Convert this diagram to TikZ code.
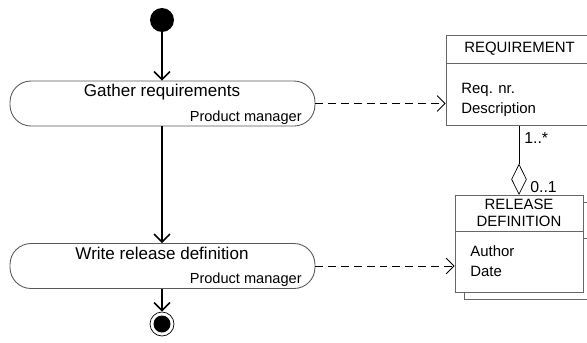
\documentclass[tikz,border=0pt]{standalone}
\usepackage{fontspec}
\setmainfont{Liberation Sans}
\usetikzlibrary{positioning, arrows.meta, shapes.geometric}

\begin{document}
\begin{tikzpicture}[x=0.02cm, y=-0.02cm, >={Straight Barb[length=4.5pt,width=9pt]},
  activity/.style={draw=black!65, line width=0.5pt, rounded corners=0.42cm,
    minimum width=6.1cm, minimum height=0.9cm, inner sep=0pt},
  acttitle/.style={font=\fontsize{9.7}{11}\selectfont, inner sep=0pt},
  actrole/.style={font=\fontsize{8.3}{10}\selectfont, inner sep=0pt, anchor=east},
  classbox/.style={draw=black!60, fill=white, minimum width=#1, inner sep=0pt,
    font=\fontsize{8.5}{9.6}\selectfont},
  classtext/.style={font=\fontsize{8.5}{11.3}\selectfont, align=left, inner sep=0pt},
  mult/.style={font=\fontsize{9}{10}\selectfont, inner sep=0pt},
  flow/.style={->, line width=0.9pt},
  trace/.style={->, line width=0.5pt, dash pattern=on 4.5pt off 2.8pt}]
  \useasboundingbox (0,0) rectangle (587,342);
  \clip (0,0) rectangle (587,342);

  % control flow
  \node[circle, fill=black, minimum size=0.48cm, inner sep=0pt] (start) at (162,20) {};
  \node[activity] (gather) at (162.5,103.5) {};
  \node[acttitle] (gathername) at (162,92) {Gather requirements};
  \node[actrole] (gatherrole) at (302,118) {Product manager};
  \node[activity] (write) at (162.5,266) {};
  \node[acttitle] (writename) at (162,253) {Write release definition};
  \node[actrole] (writerole) at (302,280) {Product manager};
  \node[circle, draw, thin, minimum size=0.48cm, inner sep=0pt] (stop) at (162,324) {};
  \node[circle, fill=black, minimum size=0.34cm, inner sep=0pt] (stopdot) at (stop) {};

  \draw[flow] (start) -- (start |- gather.north);
  \draw[flow] (gather.south -| start) -- (write.north -| start);
  \draw[flow] (write.south -| start) -- (stop.north);

  % classes
  \node[classbox=2.94cm, minimum height=0.56cm] (reqhead) at (519.5,49) {REQUIREMENT};
  \node[classbox=2.94cm, minimum height=1.24cm, below=0pt of reqhead] (reqbody) {};
  \node[classtext, anchor=west] (reqattr) at (461,100) {Req. nr.\\Description};

  \node[classbox=2.56cm, minimum height=0.72cm] (relheadback) at (528,220) {};
  \node[classbox=2.56cm, minimum height=1.22cm, below=0pt of relheadback] (relbodyback) {};
  \node[classbox=2.56cm, minimum height=0.72cm, align=center] (relhead) at (519,213) {RELEASE\\DEFINITION};
  \node[classbox=2.56cm, minimum height=1.22cm, below=0pt of relhead] (relbody) {};
  \node[classtext, anchor=west] (relattr) at (470,261) {Author\\Date};

  \node[diamond, draw, thin, fill=white, minimum width=0.3cm, minimum height=0.6cm,
    inner sep=0pt, anchor=south] (agg) at (relhead.north) {};
  \draw[thin] (agg.north |- reqbody.south) -- (agg.north);
  \node[mult, anchor=west] (reqmult) at (524,138) {1..*};
  \node[mult, anchor=west] (relmult) at (530,187) {0..1};

  % object flow
  \draw[trace] (gather.east) -- (gather.east -| reqbody.west);
  \draw[trace] (write.east) -- (write.east -| relbody.west);
\end{tikzpicture}
\end{document}
